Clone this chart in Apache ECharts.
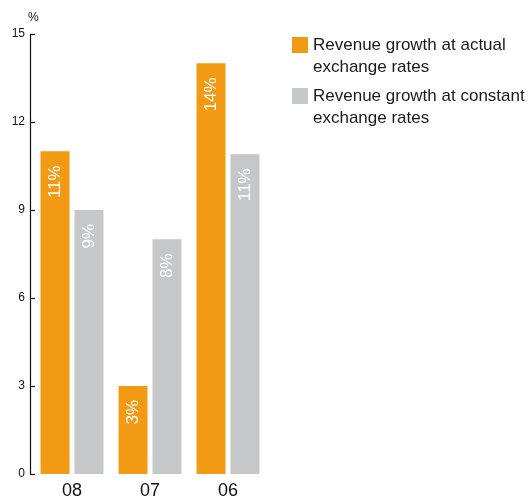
<!DOCTYPE html>
<html>
<head>
<meta charset="utf-8">
<script src="https://cdn.jsdelivr.net/npm/echarts@6/dist/echarts.min.js"></script>
<style>
  html, body { margin: 0; padding: 0; background: #fff; }
  #chart { width: 531px; height: 497px; }
</style>
</head>
<body>
<div id="chart"></div>
<script>
// Revenue growth by year, in percent
const years = ['08', '07', '06'];
const actualRates = [11, 3, 14];
const constantRates = [9, 8, 10.9];
const yTicks = { min: 0, max: 15, interval: 3 };
const seriesNames = [
  'Revenue growth at actual\nexchange rates',
  'Revenue growth at constant\nexchange rates'
];

const ORANGE = '#F39A14';
const GREY = '#C6C7C9';
const FONT = '"Liberation Sans", Arial, Helvetica, sans-serif';

const chart = echarts.init(document.getElementById('chart'), null, { renderer: 'canvas' });

const valueLabel = {
  show: true,
  position: 'insideTop',
  rotate: 90,
  align: 'right',
  verticalAlign: 'middle',
  distance: 14,
  color: '#fff',
  fontFamily: FONT,
  fontSize: 17,
  formatter: p => Math.round(p.value) + '%'
};

chart.setOption({
  animation: false,
  textStyle: { fontFamily: FONT },
  grid: { left: 33, right: 264, top: 34, bottom: 23, containLabel: false, outerBoundsMode: 'none' },
  legend: {
    orient: 'vertical',
    left: 287,
    top: 7,
    itemWidth: 16,
    itemHeight: 16,
    itemGap: -15,
    icon: 'rect',
    selectedMode: false,
    // a leading blank line keeps the swatch level with the first text line
    formatter: name => '\n' + name,
    textStyle: {
      fontFamily: FONT,
      fontSize: 17,
      color: '#1a1a1a',
      lineHeight: 22
    },
    data: seriesNames
  },
  xAxis: {
    type: 'category',
    data: years,
    axisLine: { show: false },
    axisTick: { show: false },
    axisLabel: { color: '#111', fontSize: 18, margin: 8, fontFamily: FONT }
  },
  yAxis: {
    type: 'value',
    min: yTicks.min,
    max: yTicks.max,
    interval: yTicks.interval,
    offset: 3,
    name: '%',
    nameLocation: 'end',
    nameGap: 10,
    nameTextStyle: { color: '#111', fontSize: 12, align: 'left', padding: [0, 0, 0, -2] },
    axisLine: { show: true, lineStyle: { color: '#111', width: 1.2 } },
    axisTick: { show: true, inside: true, length: 5, lineStyle: { color: '#111', width: 1.2 } },
    axisLabel: { color: '#111', fontSize: 12, margin: 5 },
    splitLine: { show: false }
  },
  series: [
    {
      name: seriesNames[0],
      type: 'bar',
      data: actualRates,
      barWidth: 29,
      barGap: '17%',
      itemStyle: { color: ORANGE },
      label: valueLabel
    },
    {
      name: seriesNames[1],
      type: 'bar',
      data: constantRates,
      barWidth: 29,
      barGap: '17%',
      itemStyle: { color: GREY },
      label: valueLabel
    }
  ]
});
</script>
</body>
</html>
